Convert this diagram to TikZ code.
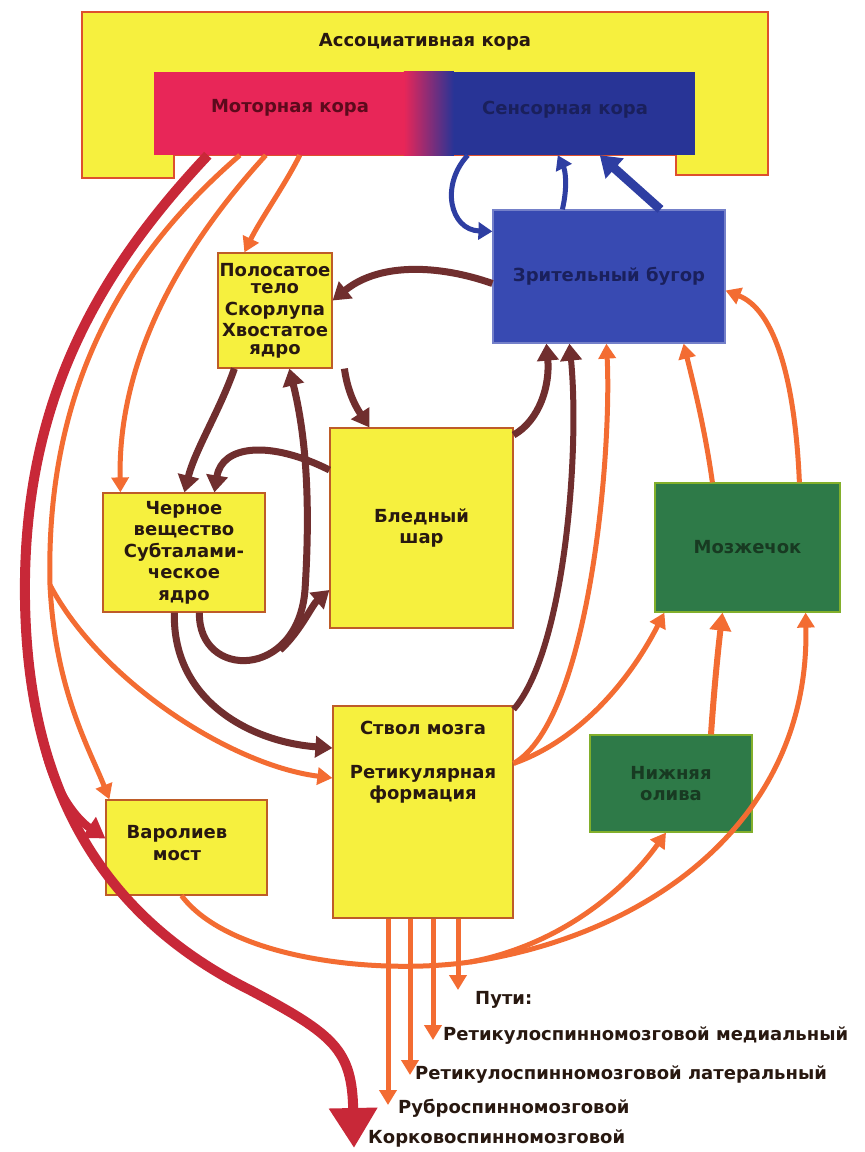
\documentclass[tikz,border=0pt]{standalone}
\usepackage{fontspec}
\setmainfont{DejaVu Sans}
\usepackage{tikz}
\usetikzlibrary{arrows.meta}

\definecolor{boxyellow}{RGB}{246,240,62}
\definecolor{boxedge}{RGB}{190,92,40}
\definecolor{frameedge}{RGB}{222,80,45}
\definecolor{motorred}{RGB}{232,38,88}
\definecolor{sensblue}{RGB}{40,52,150}
\definecolor{thalblue}{RGB}{56,74,178}
\definecolor{cerebgreen}{RGB}{46,122,72}
\definecolor{pathorange}{RGB}{243,108,50}
\definecolor{pathred}{RGB}{200,40,56}
\definecolor{pathbrown}{RGB}{112,46,46}
\definecolor{pathblue}{RGB}{46,62,162}
\definecolor{darktext}{RGB}{40,24,16}
\definecolor{navytext}{RGB}{26,32,92}
\definecolor{greentext}{RGB}{24,58,34}

\begin{document}
\begin{tikzpicture}[x=1pt, y=-1pt,
  every node/.style={font=\bfseries\fontsize{18}{21.5}\selectfont, text=darktext},
  box/.style={rectangle, draw=boxedge, fill=boxyellow, line width=1.2pt, inner sep=1pt, align=center},
  bluebox/.style={box, draw=thalblue!70!white, fill=thalblue, text=navytext},
  greenbox/.style={box, draw=cerebgreen!60!yellow, fill=cerebgreen, text=greentext},
  pathlabel/.style={anchor=west, inner sep=0pt, font=\bfseries\fontsize{18}{22}\selectfont},
  oarrow/.style={draw=pathorange, line width=5pt, -{Triangle[length=15pt,width=17pt]}},
  brarrow/.style={draw=pathbrown, line width=7pt, -{Triangle[length=17pt,width=21pt]}},
  blarrow/.style={draw=pathblue, line width=5pt, -{Triangle[length=14pt,width=17pt]}},
  redarrow/.style={draw=pathred, line width=10pt, -{Triangle[length=40pt,width=46pt]}}
]
\fill[white] (0,0) rectangle (865,1152);
\useasboundingbox (0,0) rectangle (865,1152);

% cortex
\draw[draw=frameedge, fill=boxyellow, line width=1.5pt] (82,12) -- (768,12) -- (768,175) -- (676,175)
  -- (676,155) -- (174,155) -- (174,178) -- (82,178) -- cycle;
\node (assoc) at (425,42) {Ассоциативная кора};
\node (bar) [inner sep=0pt, minimum width=541pt, minimum height=83pt] at (424.5,113.5) {};
\fill[motorred] (bar.south west) rectangle ([xshift=250pt]bar.north west);
\shade[left color=motorred, middle color={rgb,255:red,228;green,196;blue,228}, right color=sensblue]
  ([xshift=250pt]bar.south west) rectangle ([xshift=300pt]bar.north west);
\fill[sensblue] ([xshift=300pt]bar.south west) rectangle (bar.north east);
\node (motor) [text={rgb,255:red,92;green,10;blue,28}] at (290,108) {Моторная кора};
\node (sensory) [text=navytext] at (565,110) {Сенсорная кора};

% boxes
\node (thal) [bluebox, minimum width=232pt, minimum height=133pt] at (609,276.5) {Зрительный бугор};
\node (striat) [box, minimum width=114pt, minimum height=115pt] at (275,310.5)
  {Полосатое\\[-4pt]тело\\Скорлупа\\Хвостатое\\[-4pt]ядро};
\node (pall) [box, minimum width=183pt, minimum height=200pt] at (421.5,528) {Бледный\\шар};
\node (nigra) [box, minimum width=162pt, minimum height=119pt] at (184,552.5)
  {Черное\\вещество\\Субталами-\\ческое\\ядро};
\node (cereb) [greenbox, minimum width=185pt, minimum height=129pt] at (747.5,547.5) {Мозжечок};
\node (olive) [greenbox, minimum width=162pt, minimum height=97pt] at (671,783.5) {Нижняя\\олива};
\node (stem) [box, minimum width=180pt, minimum height=212pt] at (423,812) {};
\node (stemtext) [align=center, anchor=north] at (423,718) {Ствол мозга\\[22pt]Ретикулярная\\формация};
\node (pons) [box, minimum width=161pt, minimum height=95pt] at (186.5,847.5) {};
\node (ponstext) [align=center] at (177,843) {Варолиев\\мост};

% labels of the pathways
\node (putilabel) [pathlabel] at (475,1000) {Пути:};
\node (medlabel) [pathlabel] at (443,1036) {Ретикулоспинномозговой медиальный};
\node (latlabel) [pathlabel] at (415,1075) {Ретикулоспинномозговой латеральный};
\node (rubrolabel) [pathlabel] at (398,1108) {Руброспинномозговой};
\node (cortlabel) [pathlabel] at (368,1138) {Корковоспинномозговой};

% fork points
\coordinate (redfork) at (42,735);
\coordinate (orfork) at (50,585);
\coordinate (loopfork) at (280,650);
\coordinate (ponsfork) at (470,962);

% arrows from motor cortex
\draw[draw=pathred, line width=8pt, -{Triangle[length=20pt,width=24pt]}] (redfork) .. controls (50,785) and (75,818) .. ([yshift=9pt]pons.west);
\draw[redarrow] ([xshift=54pt]bar.south west) .. controls (100,270) and (22,400) .. (25,600)
  .. controls (28,800) and (110,920) .. (250,990) .. controls (335,1035) and (352,1050) .. ([xshift=-14pt,yshift=-10pt]cortlabel.west);
\draw[oarrow, -] ([xshift=86pt]bar.south west) .. controls (130,250) and (45,380) .. (orfork);
\draw[oarrow] (orfork) .. controls (55,690) and (90,750) .. ([xshift=4pt]pons.north west);
\draw[oarrow] (orfork) .. controls (100,680) and (230,765) .. ([yshift=34pt]stem.west);
\draw[oarrow] ([xshift=112pt]bar.south west) .. controls (170,260) and (118,370) .. ([xshift=18pt]nigra.north west);
\draw[oarrow] ([xshift=146pt]bar.south west) .. controls (285,185) and (260,220) .. ([xshift=27pt]striat.north west);

% sensory cortex and thalamus
\draw[blarrow] ([xshift=314pt]bar.south west) .. controls (440,185) and (450,230) .. ([yshift=-22pt]thal.north west);
\draw[blarrow] ([xshift=70pt]thal.north west) .. controls (568,185) and (565,170) .. ([xshift=404pt]bar.south west);
\draw[blarrow, line width=9pt, -{Triangle[length=20pt,width=26pt]}] ([xshift=168pt]thal.north west) -- ([xshift=446pt]bar.south west);
\draw[brarrow] ([yshift=-7pt]thal.west) .. controls (440,265) and (380,262) .. ([yshift=10pt]striat.east);

% basal ganglia
\draw[brarrow] ([xshift=17pt]striat.south west) .. controls (220,410) and (195,450) .. ([xshift=82pt]nigra.north west);
\draw[brarrow] ([xshift=127pt]striat.south west) .. controls (348,395) and (358,410) .. ([xshift=40pt]pall.north west);
\draw[brarrow] ([yshift=58pt]pall.west) .. controls (270,440) and (222,445) .. ([xshift=112pt]nigra.north west);
\draw[brarrow] ([xshift=97pt]nigra.south west) .. controls (198,680) and (298,680) .. (305,590)
  .. controls (312,480) and (302,420) .. ([xshift=72pt]striat.south west);
\draw[brarrow] (loopfork) .. controls (300,632) and (312,605) .. ([yshift=-62pt]pall.west);
\draw[brarrow] ([xshift=72pt]nigra.south west) .. controls (172,700) and (250,742) .. ([yshift=64pt]stem.west);
\draw[brarrow] ([yshift=93pt]pall.east) .. controls (540,420) and (550,385) .. ([xshift=54pt]thal.south west);
\draw[brarrow, line width=6pt] ([yshift=-4pt]stem.north east) .. controls (565,650) and (580,450) .. ([xshift=77pt]thal.south west);

% brain stem, cerebellum, olive
\draw[oarrow] ([yshift=-58pt]stem.north east) .. controls (590,720) and (612,450) .. ([xshift=114pt]thal.south west);
\draw[oarrow] ([yshift=-58pt]stem.north east) .. controls (580,740) and (630,680) .. ([xshift=10pt]cereb.south west);
\draw[oarrow] ([xshift=58pt]cereb.north west) .. controls (705,430) and (695,390) .. ([xshift=-42pt]thal.south east);
\draw[oarrow] ([xshift=145pt]cereb.north west) .. controls (795,380) and (775,310) .. ([yshift=-14pt]thal.east);
\draw[oarrow, line width=6pt, -{Triangle[length=18pt,width=21pt]}] ([xshift=40pt]olive.north) .. controls (714,690) and (718,650) .. ([xshift=-25pt]cereb.south);
\draw[oarrow, -] ([xshift=-5pt]pons.south) .. controls (230,960) and (380,975) .. (ponsfork);
\draw[oarrow] (ponsfork) .. controls (560,945) and (625,890) .. ([xshift=-5pt]olive.south);
\draw[oarrow] (ponsfork) .. controls (650,935) and (810,820) .. ([xshift=-35pt]cereb.south east);

% descending pathways
\draw[oarrow] ([xshift=-35pt]stem.south) -- ([xshift=-10pt,yshift=3pt]rubrolabel.west);
\draw[oarrow] ([xshift=-13pt]stem.south) -- ([xshift=-5pt]latlabel.west);
\draw[oarrow] ([xshift=10pt]stem.south) -- ([xshift=-10pt,yshift=-4pt]medlabel.west);
\draw[oarrow] ([xshift=35pt]stem.south) -- ([xshift=-17pt,yshift=10pt]putilabel.west);
\end{tikzpicture}
\end{document}
